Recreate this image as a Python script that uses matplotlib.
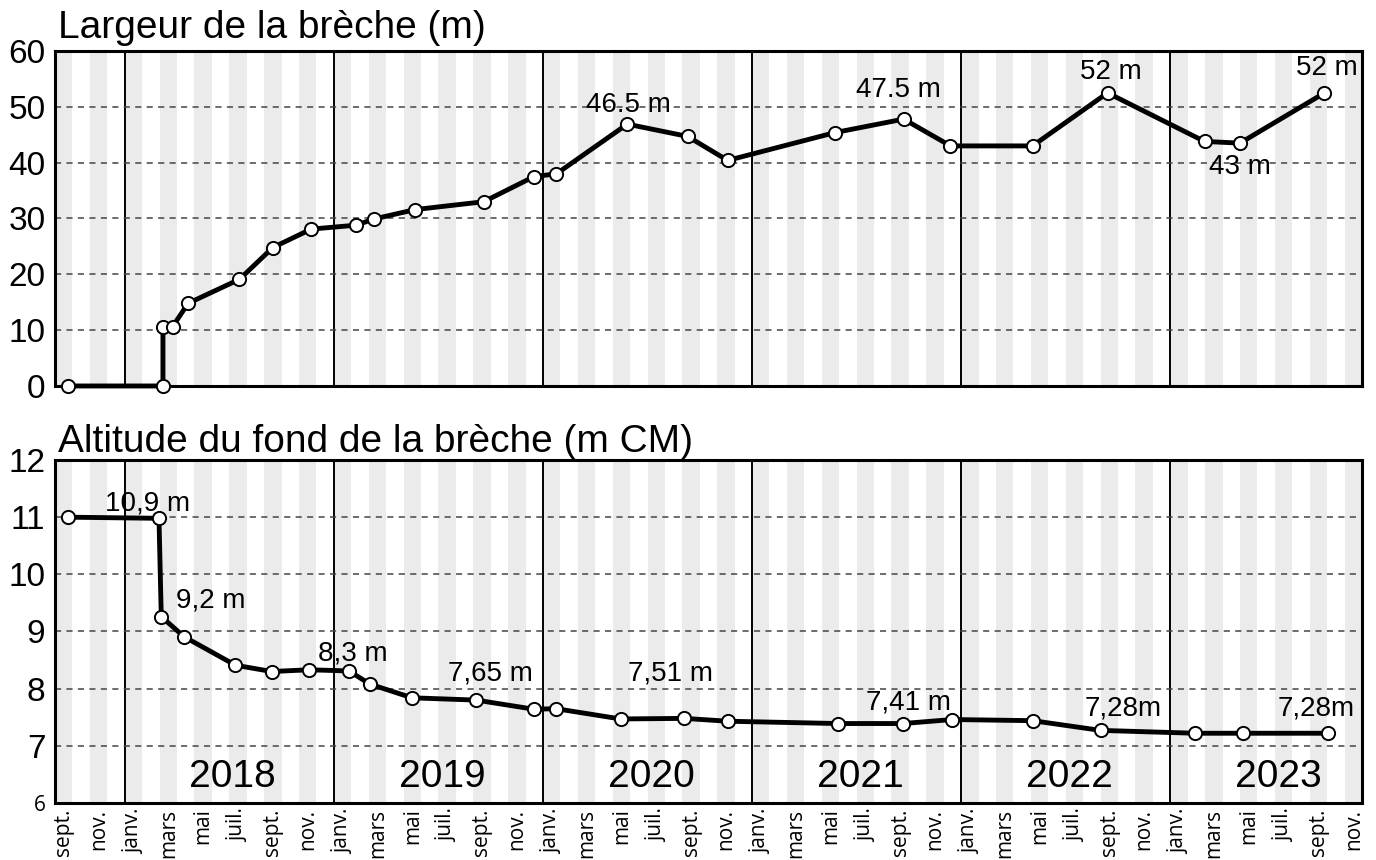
import matplotlib
matplotlib.use('Agg')
import matplotlib.pyplot as plt
import pandas as pd

plt.rcParams['font.family'] = ['Liberation Sans', 'DejaVu Sans']

# largeur de la brèche (m)
width_dates = ['2017-09-24', '2018-03-07', '2018-03-07', '2018-03-24', '2018-04-20',
               '2018-07-19', '2018-09-16', '2018-11-22', '2019-02-09', '2019-03-10',
               '2019-05-22', '2019-09-19', '2019-12-16', '2020-01-25', '2020-05-27',
               '2020-09-10', '2020-11-19', '2021-05-25', '2021-09-22', '2021-12-13',
               '2022-05-04', '2022-09-13', '2023-02-28', '2023-05-01', '2023-09-25']
width_values = [0, 0, 10.5, 10.6, 14.8,
                19.1, 24.8, 28.1, 28.8, 29.9,
                31.6, 33.0, 37.5, 38.0, 46.9,
                44.7, 40.4, 45.4, 47.8, 43.0,
                43.0, 52.5, 43.8, 43.5, 52.4]

# altitude du fond de la brèche (m CM)
alt_dates = ['2017-09-23', '2018-02-28', '2018-03-04', '2018-04-13', '2018-07-12',
             '2018-09-14', '2018-11-18', '2019-01-28', '2019-03-03', '2019-05-16',
             '2019-09-06', '2019-12-16', '2020-01-24', '2020-05-15', '2020-09-04',
             '2020-11-20', '2021-05-29', '2021-09-21', '2021-12-16', '2022-05-04',
             '2022-09-01', '2023-02-13', '2023-05-07', '2023-10-02']
alt_values = [11.0, 10.98, 9.26, 8.91, 8.41,
              8.30, 8.33, 8.31, 8.08, 7.84,
              7.80, 7.64, 7.65, 7.47, 7.48,
              7.43, 7.39, 7.39, 7.46, 7.44,
              7.27, 7.22, 7.22, 7.22]

month_labels = ['sept.', 'nov.', 'janv.', 'mars', 'mai', 'juil.']
years = ['2018', '2019', '2020', '2021', '2022', '2023']

width_notes = [('46.5 m', 32.9, 50.3), ('47.5 m', 48.4, 53.0), ('52 m', 60.6, 56.3),
               ('52 m', 73.0, 56.9), ('43 m', 68.0, 39.3)]
alt_notes = [('10,9 m', 5.3, 11.24), ('9,2 m', 8.95, 9.55), ('8,3 m', 17.1, 8.62),
             ('7,65 m', 25.0, 8.27), ('7,51 m', 35.3, 8.27), ('7,41 m', 49.0, 7.75),
             ('7,28m', 61.3, 7.66), ('7,28m', 72.4, 7.66)]

start = pd.Timestamp('2017-09-01')
n_months = 75


def to_month(d):
    # position en mois depuis sept. 2017
    t = pd.Timestamp(d)
    whole = (t.year - start.year) * 12 + (t.month - start.month)
    return whole + (t.day - 1) / t.days_in_month


def setup_axes(ax):
    ax.set_xlim(0, n_months)
    for m in range(0, n_months, 2):
        ax.axvspan(m, m + 1, color='#ebebeb', lw=0, zorder=0)
    for i in range(len(years)):
        ax.axvline(4 + 12 * i, color='black', lw=1.4, zorder=1)
    ax.grid(axis='y', ls=(0, (4, 3.5)), color='#444444', lw=1.1, zorder=1)
    ax.grid(axis='x', visible=False)
    for s in ax.spines.values():
        s.set_linewidth(2.2)
    ax.tick_params(length=0, labelsize=24, pad=7)
    ax.set_xticks([m + 0.5 for m in range(0, n_months, 2)])


fig = plt.figure(figsize=(13.76, 8.6), dpi=100)
ax1 = fig.add_axes([0.040, 0.5512, 0.9498, 0.3895])
ax2 = fig.add_axes([0.040, 0.0663, 0.9498, 0.3988])

# panneau du haut
setup_axes(ax1)
ax1.set_ylim(0, 60)
ax1.set_yticks(range(0, 61, 10))
ax1.set_xticklabels([])
ax1.plot([to_month(d) for d in width_dates], width_values, color='black', lw=3.5,
         marker='o', ms=9.5, mfc='white', mec='black', mew=1.4, zorder=3, clip_on=False)
for txt, x, y in width_notes:
    ax1.text(x, y, txt, fontsize=20, ha='center', va='center', zorder=4)
ax1.text(0.002, 1 + 13 / 335, 'Largeur de la brèche (m)', transform=ax1.transAxes,
         fontsize=28, va='baseline', ha='left')

# panneau du bas
setup_axes(ax2)
ax2.set_ylim(6, 12)
ax2.set_yticks(range(6, 13))
labels = [month_labels[i % 6] for i in range(len(ax2.get_xticks()))]
ax2.set_xticklabels(labels, rotation=90, fontsize=15, va='top', ha='center',
                    family=['Open Sans', 'DejaVu Sans'])
ax2.tick_params(axis='x', pad=4)
lab6 = ax2.get_yticklabels()[0]
lab6.set_fontsize(15)
lab6.set_family(['Open Sans', 'DejaVu Sans'])
ax2.plot([to_month(d) for d in alt_dates], alt_values, color='black', lw=3.5,
         marker='o', ms=9.5, mfc='white', mec='black', mew=1.4, zorder=3, clip_on=False)
for txt, x, y in alt_notes:
    ax2.text(x, y, txt, fontsize=20, ha='center', va='center', zorder=4)
for i, yr in enumerate(years):
    ax2.text(4 + 12 * i + 6.2, 6.46, yr, fontsize=28, ha='center', va='center', zorder=4)
ax2.text(0.002, 1 + 8 / 343, 'Altitude du fond de la brèche (m CM)', transform=ax2.transAxes,
         fontsize=28, va='baseline', ha='left')

fig.savefig('out.png', dpi=100)
